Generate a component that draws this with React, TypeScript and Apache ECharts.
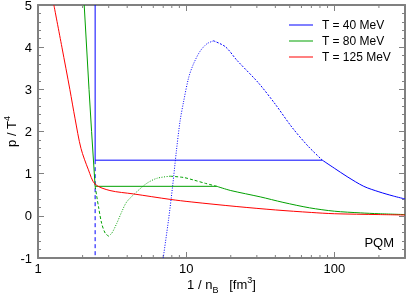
import React, { useEffect, useRef } from 'react';
import * as echarts from 'echarts';

// ---- axis ranges & ticks ----
const X_MIN = 1;
const X_MAX = 300;
const Y_MIN = -1;
const Y_MAX = 5;
const xMinorTicks = [2, 3, 4, 5, 6, 7, 8, 9, 20, 30, 40, 50, 60, 70, 80, 90, 200];
const legendLabels = ['T = 40 MeV', 'T = 80 MeV', 'T = 125 MeV'];
const modelLabel = 'PQM';

// ---- T = 40 MeV ----
const t40StableA = [[2.43, 5], [2.43, 1.32], [83, 1.32]];
const t40StableB = [[83, 1.32], [100, 1.13], [122, 0.93], [158, 0.70], [200, 0.57], [250, 0.47], [300, 0.40]];
const t40MetaLeft = [[2.43, 1.32], [2.43, -1]];
const t40Unstable = [[7.0, -1], [7.6, -0.1], [8.1, 0.7], [8.6, 1.55], [9.1, 2.25], [9.6, 2.7], [10.4, 3.28], [11.2, 3.6], [12.4, 3.9], [13.8, 4.08], [15.3, 4.15]];
const t40MetaRight = [[15.3, 4.15], [18.4, 4.01], [22, 3.69], [30.8, 3.15], [39.9, 2.65], [51.8, 2.10], [67, 1.64], [83, 1.32]];

// ---- T = 80 MeV ----
const t80StableA = [[2.05, 5], [2.21, 3], [2.30, 2], [2.43, 0.70], [16.1, 0.70]];
const t80StableB = [[16.1, 0.70], [20, 0.60], [31.6, 0.45], [45, 0.32], [68, 0.19], [100, 0.11], [150, 0.07], [200, 0.05], [300, 0.03]];
const t80MetaLeft = [[2.43, 0.70], [2.56, 0.22], [2.69, -0.18], [2.84, -0.41], [2.99, -0.48]];
const t80Unstable = [[2.99, -0.48], [3.15, -0.41], [3.40, -0.18], [3.68, 0.10], [3.97, 0.33], [4.64, 0.57], [5.42, 0.77], [6.34, 0.89], [7.8, 0.94]];
const t80MetaRight = [[7.8, 0.94], [9.6, 0.91], [11.2, 0.85], [13.5, 0.77], [16.1, 0.70]];

// ---- T = 125 MeV ----
const t125 = [[1.28, 5], [1.45, 4], [1.64, 3], [1.78, 2.3], [1.95, 1.6], [2.19, 1.09], [2.43, 0.75], [3.06, 0.60], [4.4, 0.52], [7.8, 0.39], [10.8, 0.33], [22, 0.22], [40, 0.14], [70, 0.08], [100, 0.05], [200, 0.03], [300, 0.02]];

const BLUE = '#0000ff';
const GREEN = '#00a000';
const RED = '#ff0000';
const AXIS = '#808080';
const FONT = '"Liberation Sans", Arial, sans-serif';

function lineSeries(name: string, data: number[][], color: string, type: any, smooth: number | boolean) {
  return {
    type: 'line',
    name,
    data,
    symbol: 'none',
    smooth,
    clip: true,
    lineStyle: { color, width: 1, type },
    itemStyle: { color },
    silent: true,
  };
}

export default function App() {
  const ref = useRef<HTMLDivElement>(null);
  useEffect(() => {
    if (!ref.current) return;
    const chart = echarts.init(ref.current, undefined, { renderer: 'svg' });
    const tickStyle = { color: AXIS, width: 1 };
    const option: any = {
      animation: false,
      textStyle: { fontFamily: FONT },
      grid: { left: 38, right: 2, top: 5, bottom: 41, containLabel: false, outerBoundsMode: 'none' },
      title: {
        text: modelLabel,
        right: 13,
        top: 236,
        padding: 0,
        textStyle: { fontSize: 13, fontWeight: 'normal', color: '#000', fontFamily: FONT },
      },
      legend: {
        data: legendLabels,
        orient: 'vertical',
        left: 289,
        top: 18,
        icon: 'rect',
        itemWidth: 24,
        itemHeight: 1,
        itemGap: 2,
        padding: 0,
        textStyle: { fontSize: 12, color: '#000', fontFamily: FONT, lineHeight: 14, padding: [0, 0, 0, 4] },
        selectedMode: false,
      },
      xAxis: [
        {
          type: 'log',
          logBase: 10,
          min: X_MIN,
          max: X_MAX,
          position: 'bottom',
          name: '1 / n{sub|B}   [fm{sup|3}]',
          nameLocation: 'middle',
          nameGap: 20,
          nameMoveOverlap: false,
          nameTextStyle: {
            fontSize: 13,
            color: '#000',
            fontFamily: FONT,
            rich: {
              sub: { fontSize: 9, verticalAlign: 'bottom', fontFamily: FONT, padding: [0, 0, -3, 0] },
              sup: { fontSize: 9, verticalAlign: 'top', fontFamily: FONT, padding: [-3, 0, 0, 0] },
            },
          },
          axisLine: { show: true, onZero: false, lineStyle: { color: AXIS, width: 2 } },
          axisTick: { show: true, inside: true, length: 6, lineStyle: tickStyle },
          axisLabel: { show: true, fontSize: 13, color: '#000', margin: 4, showMaxLabel: false, fontFamily: FONT },
          splitLine: { show: false },
        },
        {
          type: 'log',
          logBase: 10,
          min: X_MIN,
          max: X_MAX,
          position: 'top',
          axisLine: { show: true, onZero: false, lineStyle: { color: AXIS, width: 2 } },
          axisTick: { show: true, inside: true, length: 6, lineStyle: tickStyle },
          axisLabel: { show: false },
          splitLine: { show: false },
        },
      ],
      yAxis: [
        {
          type: 'value',
          min: Y_MIN,
          max: Y_MAX,
          interval: 1,
          position: 'left',
          name: 'p / T{sup|4}',
          nameLocation: 'middle',
          nameRotate: 90,
          nameGap: 20,
          nameMoveOverlap: false,
          nameTextStyle: {
            fontSize: 13,
            color: '#000',
            fontFamily: FONT,
            rich: {
              sup: { fontSize: 9, verticalAlign: 'top', fontFamily: FONT, padding: [-3, 0, 0, 0] },
            },
          },
          axisLine: { show: true, onZero: false, lineStyle: { color: AXIS, width: 2 } },
          axisTick: { show: true, inside: true, length: 6, lineStyle: tickStyle },
          minorTick: { show: true, splitNumber: 5, length: 3, lineStyle: tickStyle },
          axisLabel: { show: true, fontSize: 13, lineHeight: 10, color: '#000', margin: 6, fontFamily: FONT },
          splitLine: { show: false },
          minorSplitLine: { show: false },
        },
        {
          type: 'value',
          min: Y_MIN,
          max: Y_MAX,
          interval: 1,
          position: 'right',
          axisLine: { show: true, onZero: false, lineStyle: { color: AXIS, width: 2 } },
          axisTick: { show: true, inside: true, length: 6, lineStyle: tickStyle },
          minorTick: { show: true, splitNumber: 5, length: 3, lineStyle: tickStyle },
          axisLabel: { show: false },
          splitLine: { show: false },
          minorSplitLine: { show: false },
        },
      ],
      series: [
        lineSeries(legendLabels[0], t40StableA, BLUE, 'solid', false),
        lineSeries(legendLabels[0], t40StableB, BLUE, 'solid', 0.3),
        lineSeries('t40-meta-left', t40MetaLeft, BLUE, [4, 3], false),
        lineSeries('t40-unstable', t40Unstable, BLUE, [1, 1.5], 0.3),
        lineSeries('t40-meta-right', t40MetaRight, BLUE, [2, 1.5], 0.3),
        lineSeries(legendLabels[1], t80StableA, GREEN, 'solid', false),
        lineSeries(legendLabels[1], t80StableB, GREEN, 'solid', 0.3),
        lineSeries('t80-meta-left', t80MetaLeft, GREEN, [3, 2], 0.3),
        lineSeries('t80-unstable', t80Unstable, GREEN, [1, 1.5], 0.3),
        lineSeries('t80-meta-right', t80MetaRight, GREEN, [3, 2], 0.3),
        lineSeries(legendLabels[2], t125, RED, 'solid', 0.3),
        {
          type: 'custom',
          name: 'x-minor-ticks',
          coordinateSystem: 'cartesian2d',
          data: xMinorTicks.map((v) => [v, Y_MIN]),
          encode: { x: 0, y: 1 },
          silent: true,
          clip: false,
          renderItem: (_params: any, api: any) => {
            const v = api.value(0);
            const b = api.coord([v, Y_MIN]);
            const t = api.coord([v, Y_MAX]);
            const st = { stroke: AXIS, lineWidth: 1 };
            return {
              type: 'group',
              children: [
                { type: 'line', shape: { x1: b[0], y1: b[1], x2: b[0], y2: b[1] - 3 }, style: st },
                { type: 'line', shape: { x1: t[0], y1: t[1], x2: t[0], y2: t[1] + 3 }, style: st },
              ],
            };
          },
        },
      ],
    };
    chart.setOption(option);
    return () => chart.dispose();
  }, []);
  return <div ref={ref} style={{ position: 'fixed', left: 0, top: 0, width: 407, height: 299 }} />;
}
